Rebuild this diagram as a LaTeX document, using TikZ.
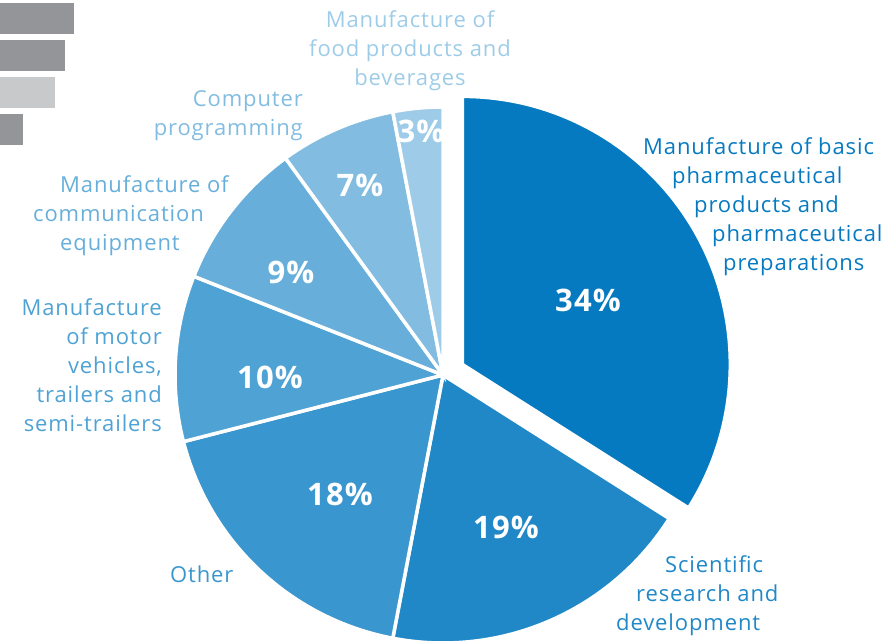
\documentclass[tikz,border=0pt]{standalone}
\usepackage{fontspec}
\setmainfont{Open Sans}[LetterSpace=4]

\definecolor{pieA}{RGB}{6,122,192}
\definecolor{pieB}{RGB}{33,136,200}
\definecolor{pieC}{RGB}{57,150,206}
\definecolor{pieD}{RGB}{78,162,212}
\definecolor{pieE}{RGB}{103,175,218}
\definecolor{pieF}{RGB}{130,189,225}
\definecolor{pieG}{RGB}{158,204,232}
\definecolor{barDark}{RGB}{147,149,152}
\definecolor{barLight}{RGB}{200,201,202}

\tikzset{
  slice/.style={draw=white,line width=3.5pt,line join=miter},
  pct/.style={text=white,inner sep=0pt,font=\fontsize{31}{31}\selectfont\bfseries},
  lbl/.style={inner sep=0pt,font=\fontsize{22}{29}\selectfont},
}

\begin{document}
\begin{tikzpicture}[x=1pt,y=1pt]
\useasboundingbox (0,0) rectangle (888,642);

% grey bars, top left
\fill[barDark] (0,608) rectangle (74,639);
\fill[barDark] (0,571) rectangle (65,602);
\fill[barLight] (0,534) rectangle (55,565);
\fill[barDark] (0,497) rectangle (23,528);

\coordinate (c) at (443,267);
\coordinate (e) at (462.3,277.6); % pulled out slice

\filldraw[slice,fill=pieA] (e) -- ++(90:268pt) arc (90:-32.4:268pt) -- cycle;
\filldraw[slice,fill=pieB] (c) -- ++(-32.4:268pt) arc (-32.4:-100.8:268pt) -- cycle;
\filldraw[slice,fill=pieC] (c) -- ++(-100.8:268pt) arc (-100.8:-165.6:268pt) -- cycle;
\filldraw[slice,fill=pieD] (c) -- ++(-165.6:268pt) arc (-165.6:-201.6:268pt) -- cycle;
\filldraw[slice,fill=pieE] (c) -- ++(-201.6:268pt) arc (-201.6:-234:268pt) -- cycle;
\filldraw[slice,fill=pieF] (c) -- ++(-234:268pt) arc (-234:-259.2:268pt) -- cycle;
\filldraw[slice,fill=pieG] (c) -- ++(-259.2:268pt) arc (-259.2:-270:268pt) -- cycle;

\node[pct] (p34) at (588,342) {34\%};
\node[pct] (p19) at (506,115) {19\%};
\node[pct] (p18) at (340,148) {18\%};
\node[pct] (p10) at (270,265) {10\%};
\node[pct] (p9) at (291,370) {9\%};
\node[pct] (p7) at (360,457) {7\%};
\node[pct] (p3) at (421,511) {3\%};

% labels: base anchor sits on the last line
\node[lbl,text=pieA,anchor=base west,align=left] (pharma) at (643,371)
  {Manufacture of basic\\\hspace*{29pt}pharmaceutical\\\hspace*{51pt}products and\\
   \hspace*{69pt}pharmaceutical\\\hspace*{80pt}preparations};
\node[lbl,text=pieB,anchor=base west,align=left] (science) at (616,12)
  {\hspace*{49pt}Scientific\\\hspace*{20pt}research and\\development};
\node[lbl,text=pieC,anchor=base west] (other) at (170,59) {Other};
\node[lbl,text=pieD,anchor=base east,align=right] (motor) at (162,210)
  {Manufacture\\of motor\\vehicles,\\trailers and\\semi-trailers};
\node[lbl,text=pieE,anchor=base west,align=left] (comm) at (33,391)
  {\hspace*{27pt}Manufacture of\\communication\\\hspace*{27pt}equipment};
\node[lbl,text=pieF,anchor=base east,align=right] (computer) at (303,506)
  {Computer\\programming};
\node[lbl,text=pieG,anchor=base,align=center] (food) at (410,556)
  {Manufacture of\\food products and\\beverages};
\end{tikzpicture}
\end{document}
